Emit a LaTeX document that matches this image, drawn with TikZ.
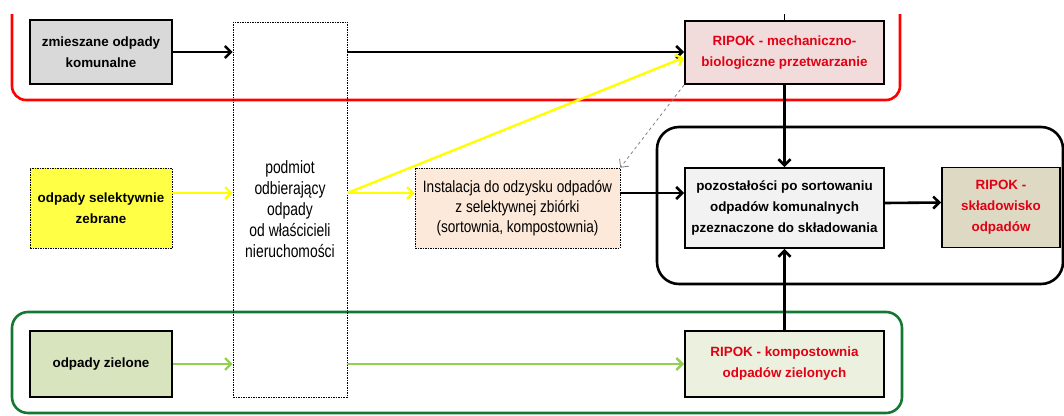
\documentclass[tikz,border=0pt]{standalone}
\usepackage{fontspec}
\setmainfont{Liberation Sans}
\newfontfamily\waski{Liberation Sans}[FakeStretch=0.78]
\newfontfamily\waskiinst{Liberation Sans}[FakeStretch=0.83]
\usetikzlibrary{arrows.meta}

\definecolor{ramka}{RGB}{20,120,50}
\definecolor{zielen}{RGB}{146,208,80}
\definecolor{zolty}{RGB}{255,255,0}
\definecolor{czerwien}{RGB}{225,0,20}

\tikzset{
  blok/.style={draw, line width=1.9pt, align=center, inner sep=2pt,
    font=\bfseries\fontsize{13.4}{21}\selectfont},
  kreski/.style={draw, dashed, dash pattern=on 1.5pt off 1pt, line width=0.6pt, align=center,
    font=\waski\fontsize{17.8}{21}\selectfont},
  czarna/.style={->, line width=2.6pt},
  zolta/.style={->, line width=2.4pt, zolty},
  zielona/.style={->, line width=2.4pt, zielen}
}

\begin{document}
\begin{tikzpicture}[x=1pt,y=-1pt,>={Straight Barb[length=6pt,width=12pt]}]
    \useasboundingbox (0,0) rectangle (1064,415);
    % ramki
    \draw[red, line width=2.6pt, rounded corners=14pt] (12,14) -- (12,100) -- (900,100) -- (900,14);
    \draw[ramka, line width=2.6pt, rounded corners=16pt] (12,312) rectangle (902,413);
    \draw[line width=2.6pt, rounded corners=22pt] (657,127) rectangle (1063,284);
    % bloki
    \node[blok, fill={rgb,255:red,217;green,217;blue,217}, minimum width=142pt, minimum height=64pt] (zmieszane) at (101,52) {zmieszane odpady\\komunalne};
    \node[kreski, fill={rgb,255:red,255;green,255;blue,70}, minimum width=142pt, minimum height=80pt,
      font=\bfseries\fontsize{13.4}{21}\selectfont] (selektywne) at (101,208) {odpady selektywnie\\zebrane};
    \node[blok, fill={rgb,255:red,215;green,228;blue,189}, minimum width=142pt, minimum height=66pt] (zielone) at (101,364) {odpady zielone};
    \node[kreski, minimum width=114pt, minimum height=375pt] (podmiot) at (290,209.5) {podmiot\\odbierający\\odpady\\od właścicieli\\nieruchomości};
    \node[blok, czerwien, draw=black, fill={rgb,255:red,242;green,220;blue,219}, minimum width=199pt, minimum height=63pt] (mbp) at (784.5,52.5) {RIPOK - mechaniczno-\\biologiczne przetwarzanie};
    \node[kreski, fill={rgb,255:red,253;green,233;blue,217}, minimum width=205pt, minimum height=80pt,
      font=\waskiinst\fontsize{16.4}{20}\selectfont] (instalacja) at (517.5,208) {Instalacja do odzysku odpadów\\z selektywnej zbiórki\\(sortownia, kompostownia)};
    \node[blok, fill={rgb,255:red,242;green,242;blue,242}, minimum width=199pt, minimum height=80pt] (pozostalosci) at (784.5,208) {pozostałości po sortowaniu\\odpadów komunalnych\\pzeznaczone do składowania};
    \node[blok, czerwien, draw=black, fill={rgb,255:red,221;green,217;blue,195}, minimum width=118pt, minimum height=80pt] (skladowisko) at (1001,207.5) {RIPOK -\\składowisko\\odpadów};
    \node[blok, czerwien, draw=black, fill={rgb,255:red,235;green,241;blue,222}, minimum width=199pt, minimum height=66pt] (kompostownia) at (784.5,364) {RIPOK - kompostownia\\odpadów zielonych};
    % polaczenia
    \draw[line width=1.2pt] (mbp.north) -- ++(0,-6);
    \draw[czarna] (zmieszane) -- (podmiot.west |- zmieszane);
    \draw[czarna] (podmiot.east |- zmieszane) -- (mbp.west |- zmieszane);
    \draw[zolta] ([yshift=15pt]selektywne.east) -- ([yshift=15pt]podmiot.west |- selektywne);
    \draw[zolta] ([yshift=15pt]podmiot.east |- selektywne) -- ([yshift=-5pt]mbp.west);
    \draw[zolta] ([yshift=15pt]podmiot.east |- selektywne) -- ([yshift=15pt]instalacja.west);
    \draw[->, gray, dashed, line width=0.8pt] (mbp.south west) -- (instalacja.north east);
    \draw[czarna] ([yshift=15pt]instalacja.east) -- ([yshift=15pt]pozostalosci.west);
    \draw[czarna] (mbp) -- (pozostalosci);
    \draw[czarna] ([yshift=5pt]pozostalosci.east) -- ([yshift=5pt]skladowisko.west);
    \draw[zielona] (zielone) -- (podmiot.west |- zielone);
    \draw[zielona] (podmiot.east |- zielone) -- (kompostownia);
    \draw[czarna] (kompostownia) -- (pozostalosci);
\end{tikzpicture}
\end{document}
